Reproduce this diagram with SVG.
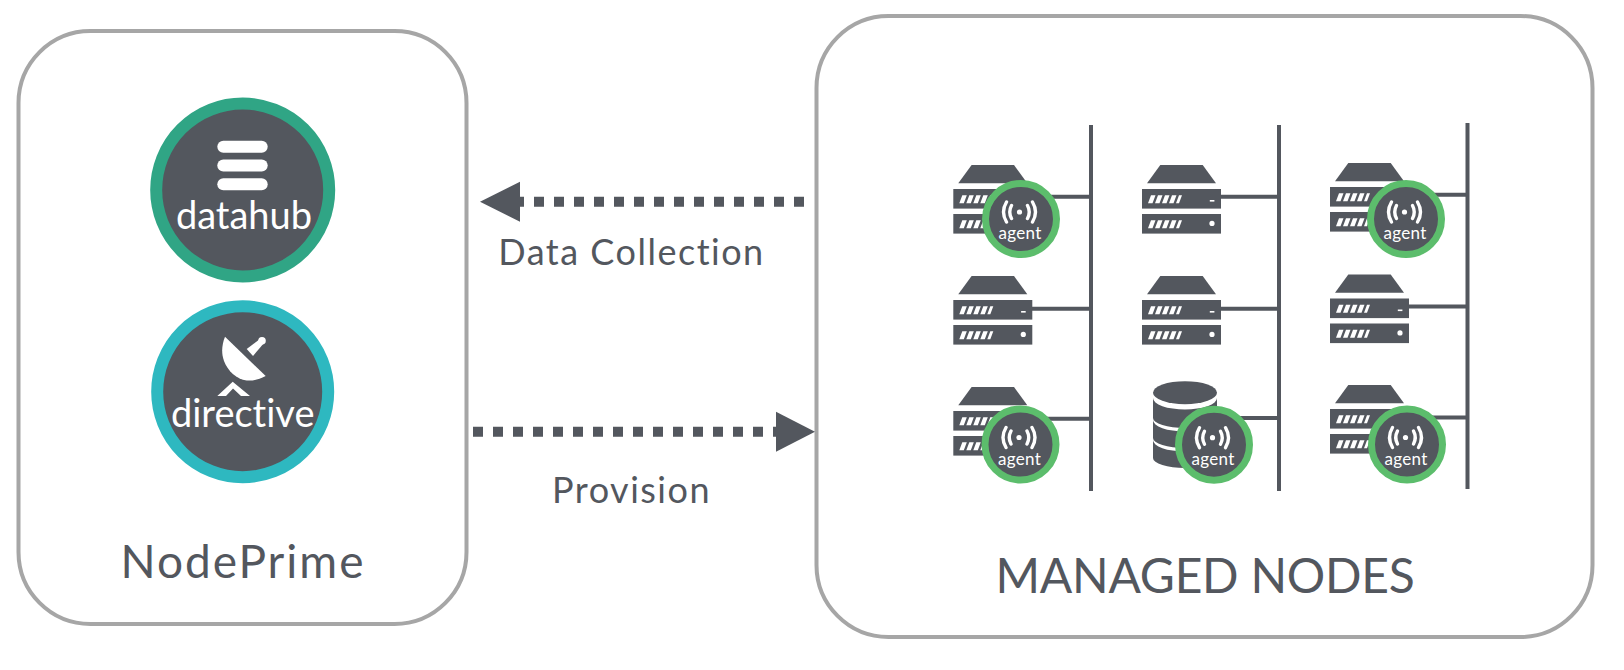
<svg xmlns="http://www.w3.org/2000/svg" width="1624" height="670" viewBox="0 0 1624 670">
<style>
text{font-family:"Lato","Noto Sans","Liberation Sans",sans-serif;fill:#53575e;font-variant-ligatures:none}
.w{fill:#fff}
.d{fill:#53575e}
.box{fill:#fff;stroke:#a6a6a6;stroke-width:4}
.flow{fill:none;stroke:#53575e;stroke-width:10;stroke-dasharray:10 10}
.rail{stroke:#53575e;stroke-width:4;fill:none}
.arc{fill:none;stroke:#fff;stroke-width:3.4;stroke-linecap:round}
.lbl{font-size:36px;text-anchor:middle;letter-spacing:1.5px}
.inner{fill:#fff;font-size:38px;text-anchor:middle}
.ag{fill:#fff;font-size:17px;text-anchor:middle;letter-spacing:.3px}
</style>
<defs>
<g id="server">
<path class="d" d="M5 18.300L18.300 0H60.700L74 18.300Z"/>
<rect class="d" x="0" y="24" width="79" height="19.600"/>
<rect class="d" x="0" y="49" width="79" height="19.600"/>
<path class="w" d="M6 38.200l3-8h4.500l-3 8zM13 38.200l3-8h4.500l-3 8zM20 38.200l3-8h4.500l-3 8zM27 38.200l3-8h4.500l-3 8zM34 38.200l3-8h3l-3 8z"/>
<path class="w" d="M6 63.200l3-8h4.500l-3 8zM13 63.200l3-8h4.500l-3 8zM20 63.200l3-8h4.500l-3 8zM27 63.200l3-8h4.500l-3 8zM34 63.200l3-8h3l-3 8z"/>
<rect class="w" x="67.800" y="35" width="4.600" height="1.600"/>
<circle class="w" cx="70" cy="58.400" r="2.600"/>
</g>
<g id="badge">
<circle r="35.500" fill="#53575e" stroke="#5cbd6c" stroke-width="7"/>
<circle class="w" cx="-1.500" cy="-7" r="2.600"/>
<path class="arc" d="M-9.500 -13.500Q-13 -7 -9.500 -0.500M6.500 -13.500Q10 -7 6.500 -0.500M-14.500 -17Q-20.500 -7 -14.500 3M11.500 -17Q17.500 -7 11.500 3"/>
</g>
</defs>
<rect width="1624" height="670" fill="#fff"/>
<g id="nodeprime">
<rect class="box" x="18.500" y="31" width="448" height="593" rx="72"/>
<text x="243" y="578" font-size="46" text-anchor="middle" letter-spacing="2">NodePrime</text>
</g>
<g id="managed-nodes">
<rect class="box" x="816.500" y="16" width="776" height="621" rx="72"/>
<text x="1205" y="593" font-size="48" text-anchor="middle" letter-spacing="-.25">MANAGED NODES</text>
</g>
<g id="connectors">
<path class="flow" d="M804 201.700H514"/>
<path class="d" d="M480 201.700L520 181.700V221.700Z"/>
<path class="flow" d="M473 431.700H783"/>
<path class="d" d="M815 431.700L776 411.700V451.700Z"/>
<path class="rail" d="M1091 125V491M1032 196.700H1091M1032 308.700H1091M1032 418.700H1091"/>
<path class="rail" d="M1279 125V491M1220 196.700H1279M1220 308.700H1279M1220 418H1279"/>
<path class="rail" d="M1467.500 123V489M1408 194.700H1467.500M1408 306.500H1467.500M1408 417.500H1467.500"/>
</g>
<g id="data-collection"><text class="lbl" x="631.500" y="265">Data Collection</text></g>
<g id="provision"><text class="lbl" x="631.500" y="503">Provision</text></g>
<g id="datahub">
<circle cx="242.700" cy="190" r="86.500" fill="#53575e" stroke="#30a585" stroke-width="12"/>
<rect class="w" x="217.300" y="140.700" width="50.400" height="12" rx="6"/>
<rect class="w" x="217.300" y="159.500" width="50.400" height="12" rx="6"/>
<rect class="w" x="217.300" y="178.300" width="50.400" height="12" rx="6"/>
<text class="inner" x="244" y="229">datahub</text>
</g>
<g id="directive">
<circle cx="242.700" cy="391.700" r="85.500" fill="#53575e" stroke="#2eb8c0" stroke-width="12"/>
<path class="w" d="M225 336.700L265.700 376C258 380 252 381 246.700 380.500C236 379 228 371 224 361C221 353 222 344 225 336.700Z"/>
<path class="w" d="M246.700 349L253 356L264 343L260 339Z"/>
<circle class="w" cx="262" cy="340.700" r="3.800"/>
<path class="w" d="M217.300 396L232.700 381.700L250 396H241L233 388.500L226 396Z"/>
<text class="inner" x="242.700" y="427">directive</text>
</g>
<g id="server-1-1"><use href="#server" x="953.300" y="165"/><use href="#badge" x="1021" y="219"/><text class="ag" x="1020" y="239">agent</text></g>
<g id="server-1-2"><use href="#server" x="953.300" y="276"/></g>
<g id="server-1-3"><use href="#server" x="953.300" y="387"/><use href="#badge" x="1020.500" y="444.500"/><text class="ag" x="1019.500" y="464.500">agent</text></g>
<g id="server-2-1"><use href="#server" x="1142" y="165"/></g>
<g id="server-2-2"><use href="#server" x="1142" y="276"/></g>
<g id="database-2-3">
<path class="d" d="M1153 398V418A32 10 0 0 0 1217 418V398A32 11.500 0 0 1 1153 398Z"/>
<path class="d" d="M1153 420V438A32 10 0 0 0 1217 438V420A32 11.500 0 0 1 1153 420Z"/>
<path class="d" d="M1153 440V458A32 10 0 0 0 1217 458V440A32 11.500 0 0 1 1153 440Z"/>
<ellipse class="d" cx="1185" cy="392.700" rx="32" ry="11.500"/>
<use href="#badge" x="1214" y="444.700"/><text class="ag" x="1213" y="464.700">agent</text>
</g>
<g id="server-3-1"><use href="#server" x="1330" y="163"/><use href="#badge" x="1406" y="219"/><text class="ag" x="1405" y="239">agent</text></g>
<g id="server-3-2"><use href="#server" x="1330" y="274.500"/></g>
<g id="server-3-3"><use href="#server" x="1330" y="385"/><use href="#badge" x="1407" y="444.500"/><text class="ag" x="1406" y="464.500">agent</text></g>
</svg>
